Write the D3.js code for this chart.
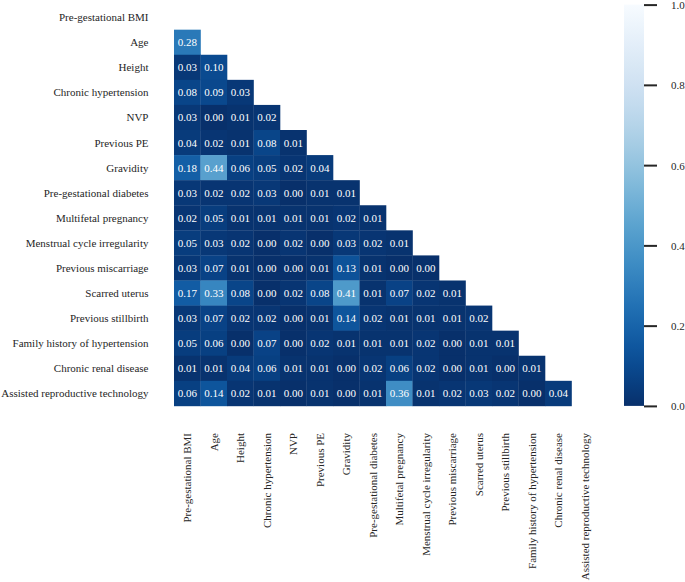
<!DOCTYPE html>
<html>
<head>
<meta charset="utf-8">
<script src="https://cdn.jsdelivr.net/npm/d3@7/dist/d3.min.js"></script>
<style>
html,body{margin:0;padding:0;background:#fff;}
text{font-family:"Liberation Serif","Times New Roman",serif;}
</style>
</head>
<body>
<svg id="chart" width="685" height="582"></svg>
<script>
const variables = [
  "Pre-gestational BMI","Age","Height","Chronic hypertension","NVP","Previous PE",
  "Gravidity","Pre-gestational diabetes","Multifetal pregnancy","Menstrual cycle irregularity",
  "Previous miscarriage","Scarred uterus","Previous stillbirth","Family history of hypertension",
  "Chronic renal disease","Assisted reproductive technology"
];
// lower-triangle values: row i has i entries (columns 0..i-1)
const lowerTriangle = [
  [],
  [0.28],
  [0.03,0.10],
  [0.08,0.09,0.03],
  [0.03,0.00,0.01,0.02],
  [0.04,0.02,0.01,0.08,0.01],
  [0.18,0.44,0.06,0.05,0.02,0.04],
  [0.03,0.02,0.02,0.03,0.00,0.01,0.01],
  [0.02,0.05,0.01,0.01,0.01,0.01,0.02,0.01],
  [0.05,0.03,0.02,0.00,0.02,0.00,0.03,0.02,0.01],
  [0.03,0.07,0.01,0.00,0.00,0.01,0.13,0.01,0.00,0.00],
  [0.17,0.33,0.08,0.00,0.02,0.08,0.41,0.01,0.07,0.02,0.01],
  [0.03,0.07,0.02,0.02,0.00,0.01,0.14,0.02,0.01,0.01,0.01,0.02],
  [0.05,0.06,0.00,0.07,0.00,0.02,0.01,0.01,0.01,0.02,0.00,0.01,0.01],
  [0.01,0.01,0.04,0.06,0.01,0.01,0.00,0.02,0.06,0.02,0.00,0.01,0.00,0.01],
  [0.06,0.14,0.02,0.01,0.00,0.01,0.00,0.01,0.36,0.01,0.02,0.03,0.02,0.00,0.04]
];
const colorbarTicks = [0.0,0.2,0.4,0.6,0.8,1.0];

const svg = d3.select("#chart");
const gLeft = 174, gRight = 598, gTop = 4.6, gBottom = 405.9;
const x = d3.scaleBand().domain(variables).range([gLeft, gRight]);
const y = d3.scaleBand().domain(variables).range([gTop, gBottom]);
const color = v => d3.interpolateBlues(1 - v);

const cells = [];
lowerTriangle.forEach((row, i) => row.forEach((v, j) => cells.push({r: variables[i], c: variables[j], v})));

svg.append("g").selectAll("rect").data(cells).join("rect")
  .attr("x", d => x(d.c)).attr("y", d => y(d.r))
  .attr("width", x.bandwidth() + 0.3).attr("height", y.bandwidth() + 0.3)
  .attr("fill", d => color(d.v));

svg.append("g").selectAll("text").data(cells).join("text")
  .attr("x", d => x(d.c) + x.bandwidth()/2)
  .attr("y", d => y(d.r) + y.bandwidth()/2)
  .attr("text-anchor", "middle").attr("dominant-baseline", "central")
  .attr("font-size", 11).attr("fill", "#fff")
  .text(d => d.v.toFixed(2));

// y labels
svg.append("g").selectAll("text").data(variables).join("text")
  .attr("x", 148.5).attr("y", d => y(d) + y.bandwidth()/2)
  .attr("text-anchor", "end").attr("dominant-baseline", "central")
  .attr("font-size", 11).attr("fill", "#262626")
  .text(d => d);

// x labels rotated
svg.append("g").selectAll("text").data(variables).join("text")
  .attr("transform", d => `translate(${x(d) + x.bandwidth()/2},433) rotate(-90)`)
  .attr("text-anchor", "end").attr("dominant-baseline", "central")
  .attr("font-size", 11).attr("fill", "#262626")
  .text(d => d);

// colorbar
const cbX = 624, cbW = 20;
const cy = d3.scaleLinear().domain([0, 1]).range([gBottom, gTop]);
const defs = svg.append("defs");
const grad = defs.append("linearGradient").attr("id", "cbgrad")
  .attr("x1", 0).attr("y1", 1).attr("x2", 0).attr("y2", 0);
d3.range(0, 1.0001, 0.05).forEach(t => grad.append("stop").attr("offset", t).attr("stop-color", color(t)));
svg.append("rect").attr("x", cbX).attr("y", gTop).attr("width", cbW).attr("height", gBottom - gTop)
  .attr("fill", "url(#cbgrad)");

const axis = d3.axisRight(cy).tickValues(colorbarTicks).tickFormat(d3.format(".1f")).tickSize(13).tickPadding(14);
const ag = svg.append("g").attr("transform", `translate(${cbX + cbW},0)`).call(axis);
ag.select(".domain").remove();
ag.selectAll(".tick line").attr("stroke", "#262626").attr("stroke-width", 2);
ag.selectAll(".tick text").attr("font-size", 11).attr("fill", "#262626")
  .attr("dy", "0.36em")
  .attr("font-family", "Liberation Serif, Times New Roman, serif");
</script>
</body>
</html>
